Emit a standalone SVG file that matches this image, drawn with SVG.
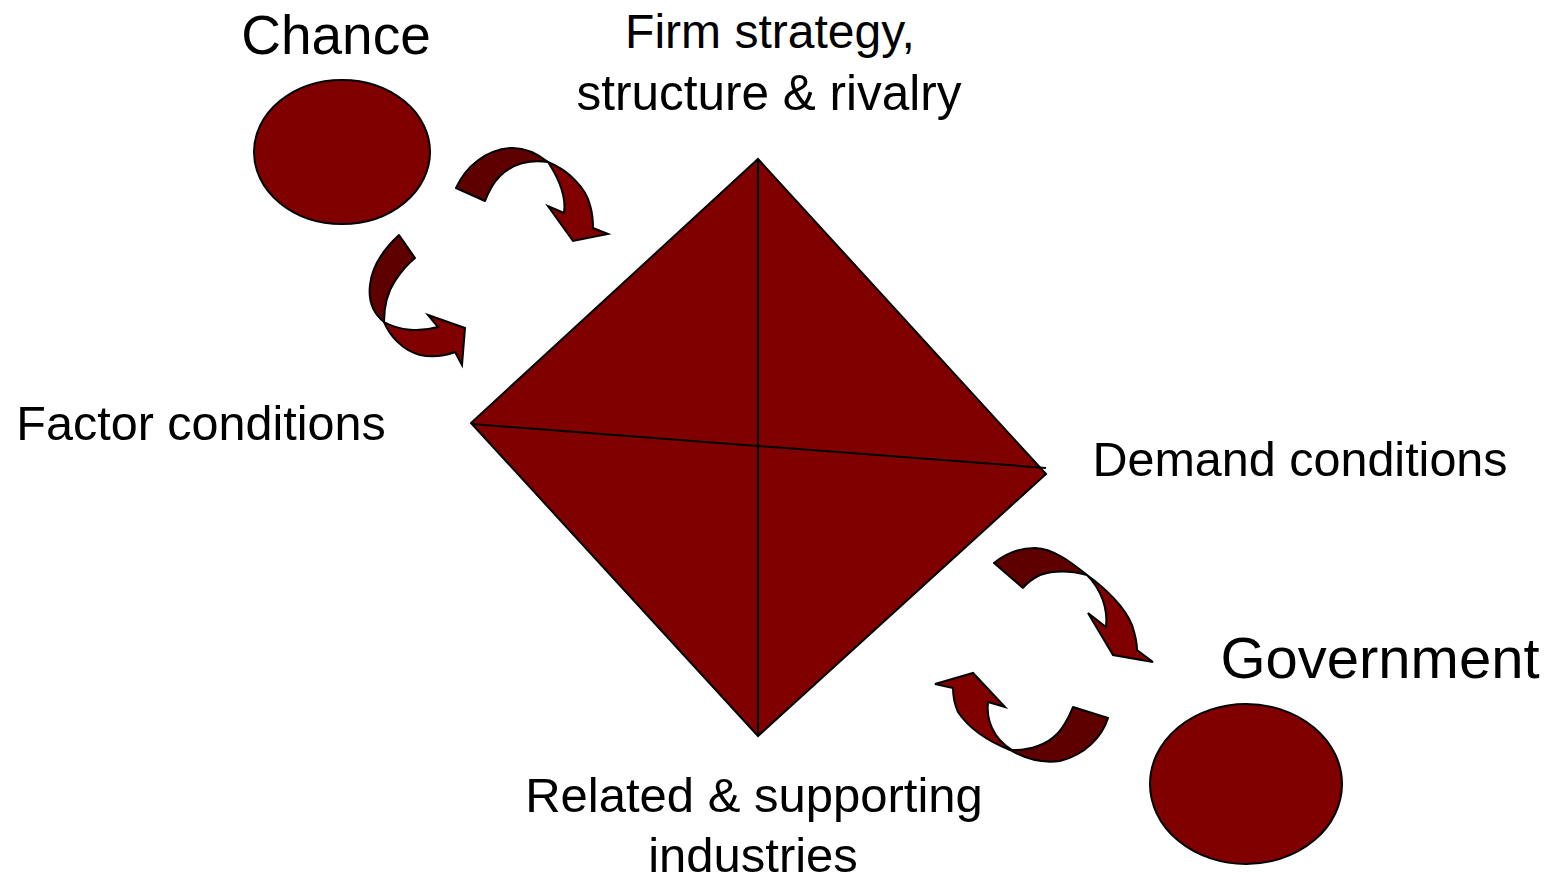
<svg xmlns="http://www.w3.org/2000/svg" width="1554" height="880" viewBox="0 0 1554 880">
<style>
.lbl{font-family:"Liberation Sans",Arial,sans-serif;fill:#000;text-anchor:middle}
.shape{fill:#800000;stroke:#000;stroke-width:2}
.dark{fill:#5e0000;stroke:#000;stroke-width:2;stroke-linejoin:round}
.bright{fill:#800000;stroke:#000;stroke-width:2;stroke-linejoin:miter}
.edge{stroke:#000;stroke-width:2;fill:none}
</style>
<rect width="1554" height="880" fill="#fff"/>
<g id="diamond">
<polygon class="shape" points="758,159 1046,474 758,736 471,423"/>
</g>
<g id="connectors">
<line class="edge" x1="758" y1="159" x2="758" y2="736"/>
<line class="edge" x1="472" y1="424" x2="1046" y2="468"/>
<g id="arrow-chance-firm">
<path class="dark" d="M456,188 C466,166 486,150 510,148 C525,147 538,154 548,162 C530,159 512,164 500,176 C492,184 488,193 485,201 Z"/>
<path class="bright" d="M548,162 C568,170 586,188 590,205 C593,215 593,222 593,228 L608,234 L573,241 L548,206 L564,213 C566,200 563,185 548,162 Z"/>
</g>
<g id="arrow-chance-factor">
<path class="dark" d="M399,235 C385,248 372,265 370,285 C368,302 374,314 384,322 C384,308 387,293 395,281 C402,270 409,263 415,258 Z"/>
<path class="bright" d="M384,322 C390,336 402,350 420,355 C435,358 447,355 455,352 L462,365 L465,328 L428,315 L438,327 C420,332 400,331 384,322 Z"/>
</g>
<g id="arrow-demand-gov">
<path class="dark" d="M994,563 C1006,553 1020,548 1035,548 C1055,549 1072,563 1087,575 C1072,571 1055,570 1040,575 C1032,579 1026,584 1023,588 Z"/>
<path class="bright" d="M1087,575 C1105,588 1125,607 1132,625 C1136,637 1137,645 1137,650 L1153,662 L1113,655 L1088,613 L1106,627 C1108,610 1102,590 1087,575 Z"/>
</g>
<g id="arrow-gov-related">
<path class="dark" d="M1108,718 C1102,737 1085,755 1060,761 C1040,764 1022,757 1010,750 C1030,751 1048,744 1058,733 C1066,724 1070,714 1073,707 Z"/>
<path class="bright" d="M1010,750 C990,742 970,730 958,712 C954,703 953,694 953,688 L935,684 L973,673 L1005,707 L988,702 C986,718 992,738 1012,750 Z"/>
</g>
</g>
<g id="chance">
<ellipse class="shape" cx="342" cy="152" rx="88" ry="72"/>
<text class="lbl" x="336" y="54" font-size="55">Chance</text>
</g>
<g id="government">
<ellipse class="shape" cx="1246" cy="784" rx="96" ry="80"/>
<text class="lbl" x="1380" y="678" font-size="58">Government</text>
</g>
<g id="firm">
<text class="lbl" x="770" y="48" font-size="48">Firm strategy,</text>
<text class="lbl" x="769" y="110" font-size="49.5">structure &amp; rivalry</text>
</g>
<g id="factor">
<text class="lbl" x="201" y="440" font-size="48.5">Factor conditions</text>
</g>
<g id="demand">
<text class="lbl" x="1300" y="476" font-size="48.5">Demand conditions</text>
</g>
<g id="related">
<text class="lbl" x="754" y="812" font-size="49">Related &amp; supporting</text>
<text class="lbl" x="753" y="872" font-size="49">industries</text>
</g>
</svg>
